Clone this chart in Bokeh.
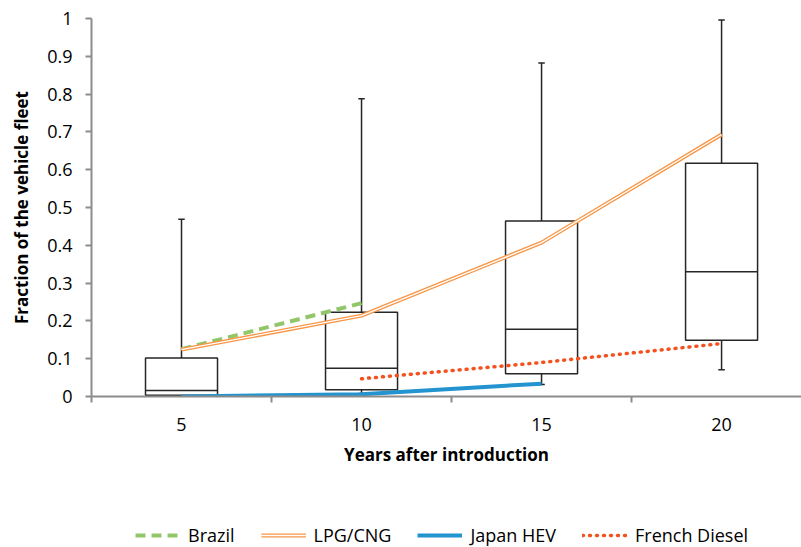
from bokeh.plotting import figure
from bokeh.models import FixedTicker, Legend, LegendItem, Range1d
from bokeh.layouts import column
from bokeh.embed import file_html
from bokeh.resources import INLINE

# ---- data ----
years = [5, 10, 15, 20]
whisker_low = [0.0, 0.008, 0.032, 0.071]
q1 = [0.003, 0.018, 0.060, 0.149]
median = [0.016, 0.075, 0.178, 0.330]
q3 = [0.102, 0.223, 0.464, 0.617]
whisker_high = [0.469, 0.788, 0.882, 0.996]

brazil_years = [5, 10]
brazil = [0.125, 0.247]
lpg_years = [5, 10, 15, 20]
lpg = [0.124, 0.214, 0.407, 0.693]
japan_years = [5, 10, 15]
japan = [0.0, 0.006, 0.034]
french_years = [10, 15, 20]
french = [0.047, 0.090, 0.140]

series_names = ["Brazil", "LPG/CNG", "Japan HEV", "French Diesel"]
y_ticks = [0, 0.1, 0.2, 0.3, 0.4, 0.5, 0.6, 0.7, 0.8, 0.9, 1]
boundaries = [2.5, 7.5, 12.5, 17.5, 22.5]

FONT = "Open Sans"
BOX_COL = "#262626"
AX_COL = "#8c8c8c"
C_BR, C_LPG, C_JP, C_FR = "#92C66A", "#F79646", "#2394CF", "#F4511E"

p = figure(width=801, height=477, output_backend="svg",
           toolbar_location=None, x_range=Range1d(2.5, 22.22),
           y_range=Range1d(0, 1), min_border_left=91, min_border_top=18,
           min_border_right=0, min_border_bottom=81)
p.outline_line_color = None
p.xgrid.visible = False
p.ygrid.visible = False

half = 1.0
cap = 0.09
left = [x - half for x in years]
right = [x + half for x in years]
p.quad(left=left, right=right, bottom=q1, top=q3, fill_color=None,
       line_color=BOX_COL, line_width=1.5)
p.segment(x0=left, x1=right, y0=median, y1=median, line_color=BOX_COL, line_width=1.5)
p.segment(x0=years, x1=years, y0=q3, y1=whisker_high, line_color=BOX_COL, line_width=1.5)
p.segment(x0=years, x1=years, y0=whisker_low, y1=q1, line_color=BOX_COL, line_width=1.5)
p.segment(x0=[x - cap for x in years], x1=[x + cap for x in years],
          y0=whisker_high, y1=whisker_high, line_color=BOX_COL, line_width=1.5)
p.segment(x0=[x - cap for x in years], x1=[x + cap for x in years],
          y0=whisker_low, y1=whisker_low, line_color=BOX_COL, line_width=1.5)

BR_STYLE = dict(line_color=C_BR, line_width=4, line_dash="10 6")
LPG_OUT = dict(line_color=C_LPG, line_width=4)
LPG_IN = dict(line_color="white", line_width=1.3)
JP_STYLE = dict(line_color=C_JP, line_width=4)
FR_STYLE = dict(line_color=C_FR, line_width=3.5, line_dash="1 6", line_cap="round")

p.line(brazil_years, brazil, **BR_STYLE)
p.line(lpg_years, lpg, **LPG_OUT)
p.line(lpg_years, lpg, **LPG_IN)
p.line(japan_years, japan, **JP_STYLE)
p.line(french_years, french, **FR_STYLE)

# axes
xa = p.xaxis[0]
xa.ticker = FixedTicker(ticks=years, minor_ticks=boundaries)
xa.major_tick_out = 0
xa.major_tick_in = 0
xa.minor_tick_out = 6
xa.minor_tick_in = 0
xa.minor_tick_line_color = AX_COL
xa.minor_tick_line_width = 2
xa.axis_line_color = AX_COL
xa.axis_line_width = 2
xa.major_label_text_font = FONT
xa.major_label_text_font_size = "18px"
xa.major_label_text_color = "#000000"
xa.major_label_standoff = 15
xa.axis_label = "Years after introduction"
xa.axis_label_text_font = FONT
xa.axis_label_text_font_style = "bold"
xa.axis_label_text_font_size = "17px"
xa.axis_label_text_color = "#000000"
xa.axis_label_standoff = 9

ya = p.yaxis[0]
ya.ticker = FixedTicker(ticks=y_ticks)
ya.major_tick_out = 6
ya.major_tick_in = 0
ya.major_tick_line_color = AX_COL
ya.major_tick_line_width = 2
ya.minor_tick_line_color = None
ya.axis_line_color = AX_COL
ya.axis_line_width = 2
ya.major_label_text_font = FONT
ya.major_label_text_font_size = "18px"
ya.major_label_text_color = "#000000"
ya.major_label_standoff = 13
ya.axis_label = "Fraction of the vehicle fleet"
ya.axis_label_text_font = FONT
ya.axis_label_text_font_style = "bold"
ya.axis_label_text_font_size = "17px"
ya.axis_label_text_color = "#000000"
ya.axis_label_standoff = 11

# ---- legend strip below the chart (series drawn out of view; only legend shows) ----
p2 = figure(width=801, height=70, output_backend="svg", toolbar_location=None,
            x_range=Range1d(0, 1), y_range=Range1d(2, 3), min_border=0)
p2.axis.visible = False
p2.xgrid.visible = False
p2.ygrid.visible = False
p2.outline_line_color = None

l_br = p2.line(brazil_years, brazil, **BR_STYLE)
l_lpg1 = p2.line(lpg_years, lpg, **LPG_OUT)
l_lpg2 = p2.line(lpg_years, lpg, **LPG_IN)
l_jp = p2.line(japan_years, japan, **JP_STYLE)
l_fr = p2.line(french_years, french, **FR_STYLE)

legend = Legend(items=[
    LegendItem(label=series_names[0], renderers=[l_br]),
    LegendItem(label=series_names[1], renderers=[l_lpg1, l_lpg2]),
    LegendItem(label=series_names[2], renderers=[l_jp]),
    LegendItem(label=series_names[3], renderers=[l_fr]),
], orientation="horizontal", location=(44, 0))
legend.label_text_font = FONT
legend.label_text_font_size = "18px"
legend.label_text_color = "#000000"
legend.glyph_width = 45
legend.glyph_height = 18
legend.label_standoff = 8
legend.spacing = 26
legend.border_line_color = None
legend.background_fill_alpha = 0
legend.padding = 0
legend.margin = 0
legend.label_height = 18
p2.add_layout(legend, "center")

layout = column(p, p2, spacing=0)

with open("out.html", "w") as f:
    f.write(file_html(layout, INLINE))
